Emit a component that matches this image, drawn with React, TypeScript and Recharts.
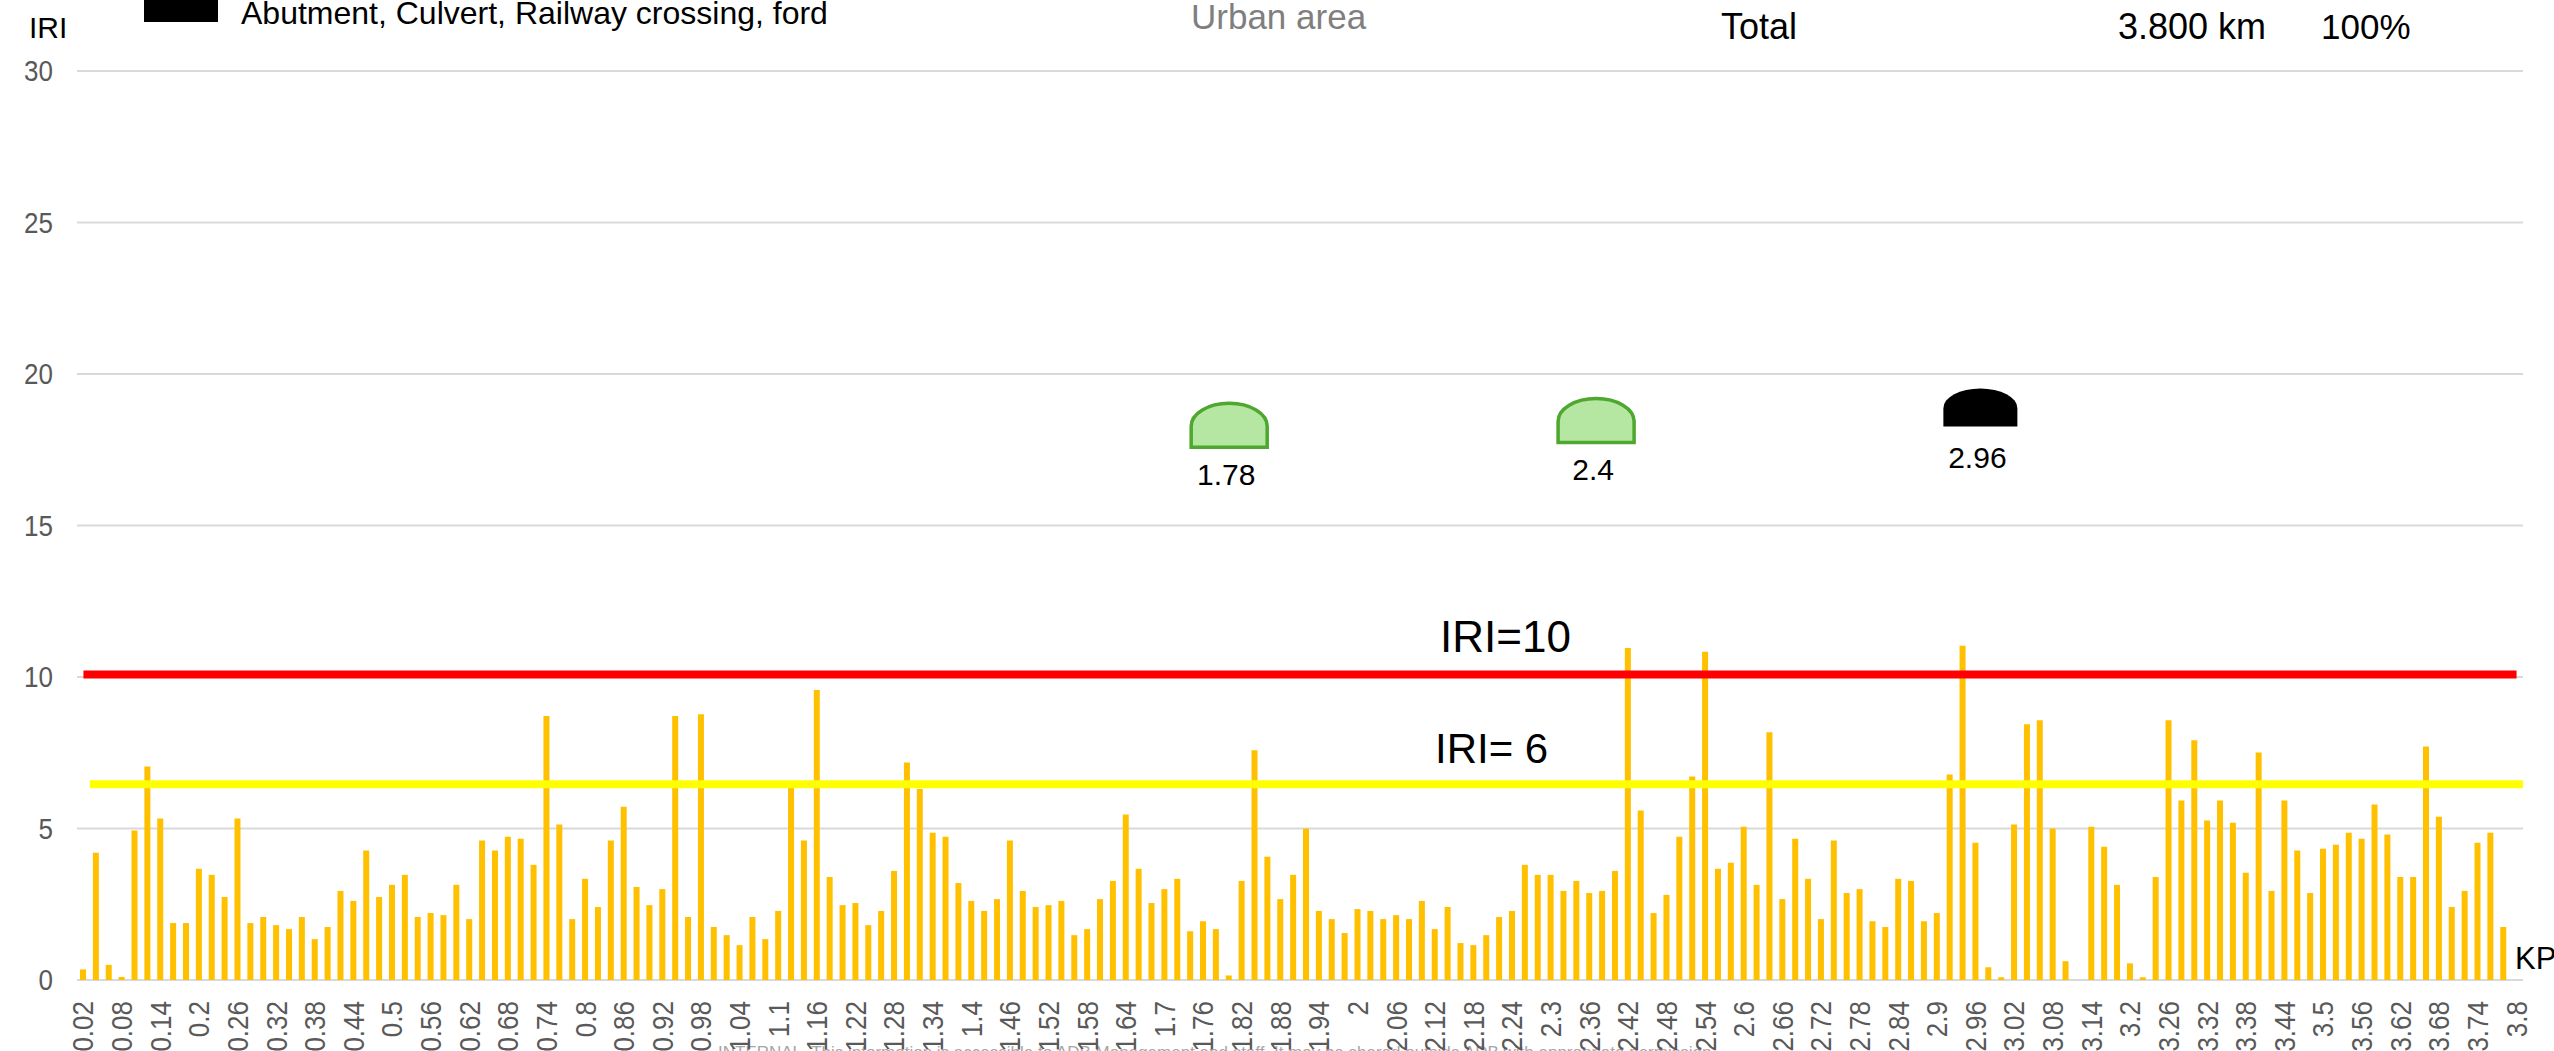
import React from 'react';
import { ComposedChart, Bar, XAxis, YAxis, CartesianGrid, ReferenceLine, ReferenceDot } from 'recharts';

// KP in km, one reading every 20 m
const KP_LABELS = Array.from({ length: 190 }, (_, i) => String(Number(((i + 1) * 0.02).toFixed(2))));

const IRI_VALUES = [
  0.35, 4.2, 0.5, 0.1, 4.93, 7.05, 5.33, 1.88, 1.88, 3.67, 3.47, 2.74, 5.33, 1.88, 2.08, 1.81, 1.68, 2.08, 1.35, 1.75,
  2.94, 2.61, 4.27, 2.74, 3.14, 3.47, 2.08, 2.21, 2.14, 3.14, 2.01, 4.6, 4.27, 4.73, 4.66, 3.8, 8.71, 5.13, 2.01, 3.34,
  2.41, 4.6, 5.72, 3.07, 2.47, 3.0, 8.71, 2.08, 8.77, 1.75, 1.48, 1.15, 2.08, 1.35, 2.28, 6.4, 4.6, 9.57, 3.4, 2.47,
  2.54, 1.81, 2.28, 3.6, 7.18, 6.3, 4.86, 4.73, 3.2, 2.61, 2.28, 2.67, 4.6, 2.94, 2.41, 2.47, 2.61, 1.48, 1.68, 2.67,
  3.27, 5.46, 3.67, 2.54, 3.0, 3.34, 1.61, 1.94, 1.68, 0.15, 3.27, 7.58, 4.07, 2.67, 3.47, 5.0, 2.28, 2.01, 1.55, 2.34,
  2.28, 2.01, 2.14, 2.01, 2.61, 1.68, 2.41, 1.22, 1.15, 1.48, 2.08, 2.28, 3.8, 3.47, 3.47, 2.94, 3.27, 2.87, 2.94, 3.6,
  10.96, 5.59, 2.21, 2.81, 4.73, 6.72, 10.83, 3.67, 3.87, 5.06, 3.14, 8.18, 2.67, 4.66, 3.34, 2.01, 4.6, 2.87, 3.0, 1.94,
  1.75, 3.34, 3.27, 1.94, 2.21, 6.78, 11.03, 4.53, 0.42, 0.09, 5.13, 8.44, 8.57, 5.0, 0.62, 0, 5.06, 4.4, 3.14, 0.55,
  0.09, 3.4, 8.57, 5.92, 7.91, 5.26, 5.92, 5.19, 3.54, 7.51, 2.94, 5.92, 4.27, 2.87, 4.33, 4.46, 4.86, 4.66, 5.79, 4.8,
  3.4, 3.4, 7.71, 5.39, 2.41, 2.94, 4.53, 4.86, 1.75, 0,
];

const Y_TICKS = [0, 5, 10, 15, 20, 25, 30];

const MARKER_KP = [1.8, 2.37, 2.967];
const MARKER_IRI = [17.58, 17.74, 18.27];
const MARKER_LABELS = ['1.78', '2.4', '2.96'];
const MARKER_KINDS = ['urban', 'urban', 'structure'];

const chartData = KP_LABELS.map((kp, i) => ({ kp, km: Number(kp), iri: IRI_VALUES[i] }));

const FONT = '"Liberation Sans", Arial, sans-serif';

const KpTick = ({ x, y, payload }: any) => (
  <text
    transform={`translate(${x + 10},${y + 13}) rotate(-90) scale(1,1.12)`}
    textAnchor="end"
    fontFamily={FONT}
    fontSize={26}
    fill="#595959"
  >
    {payload.value}
  </text>
);

const IriTick = ({ x, y, payload }: any) => (
  <text
    transform={`translate(${x},${y + 10}) scale(1,1.12)`}
    textAnchor="end"
    fontFamily={FONT}
    fontSize={26}
    fill="#595959"
  >
    {payload.value}
  </text>
);

// half-round marker sitting on its lower edge
const Marker = ({ cx, cy, kind, label }: any) => {
  const urban = kind === 'urban';
  const w = urban ? 76 : 74;
  const h = urban ? 44 : 38;
  const r = w / 2;
  const ry = h * 0.52;
  const arcStart = cy - h + ry;
  return (
    <g>
      <path
        d={`M${cx - r},${cy} L${cx - r},${arcStart} A${r},${ry} 0 0 1 ${cx + r},${arcStart} L${cx + r},${cy} Z`}
        fill={urban ? '#b5e6a2' : '#000000'}
        stroke={urban ? '#4ea72e' : 'none'}
        strokeWidth={3.5}
      />
      <text x={cx - 3} y={cy + (urban ? 38 : 42)} textAnchor="middle" fontFamily={FONT} fontSize={30} fill="#000">
        {label}
      </text>
    </g>
  );
};

export default function App() {
  return (
    <div style={{ position: 'absolute', left: 0, top: 0, width: 2554, height: 1051, overflow: 'hidden', background: '#fff' }}>
      <ComposedChart
        width={2554}
        height={1051}
        data={chartData}
        margin={{ top: 71, right: 31, bottom: 0, left: 0 }}
        style={{ fontFamily: FONT }}
      >
        <CartesianGrid vertical={false} stroke="#d9d9d9" strokeWidth={2} />
        <XAxis
          dataKey="kp"
          interval={2}
          height={71}
          axisLine={false}
          tickLine={false}
          tick={<KpTick />}
        />
        <XAxis xAxisId="km" dataKey="km" type="number" domain={[0.01, 3.81]} allowDataOverflow hide />
        <YAxis
          width={77}
          domain={[0, 30]}
          ticks={Y_TICKS}
          interval={0}
          axisLine={false}
          tickLine={false}
          tickMargin={18}
          tick={<IriTick />}
        />
        <Bar dataKey="iri" fill="#ffc000" barSize={6} isAnimationActive={false} />
        <ReferenceLine
          xAxisId="km"
          segment={[{ x: 0.02, y: 10.08 }, { x: 3.8, y: 10.08 }]}
          stroke="#ff0000"
          strokeWidth={8}
        />
        <ReferenceLine
          xAxisId="km"
          segment={[{ x: 0.03, y: 6.46 }, { x: 3.81, y: 6.46 }]}
          stroke="#ffff00"
          strokeWidth={8}
        />
        {MARKER_KP.map((kp, i) => (
          <ReferenceDot
            key={MARKER_LABELS[i]}
            xAxisId="km"
            x={kp}
            y={MARKER_IRI[i]}
            shape={(props: any) => <Marker {...props} kind={MARKER_KINDS[i]} label={MARKER_LABELS[i]} />}
          />
        ))}
        <g fontFamily={FONT}>
          <text x={29} y={38} fontSize={30} fill="#000">IRI</text>
          <rect x={144} y={0} width={74} height={22} fill="#000" />
          <text x={241} y={24} fontSize={32} fill="#000">Abutment, Culvert, Railway crossing, ford</text>
          <text x={1191} y={29} fontSize={35} fill="#7f7f7f">Urban area</text>
          <text x={1721} y={39} fontSize={36} fill="#000">Total</text>
          <text x={2118} y={39} fontSize={36} fill="#000">3.800 km</text>
          <text x={2321} y={39} fontSize={35} fill="#000">100%</text>
          <text x={1440} y={652} fontSize={44} fill="#000">IRI=10</text>
          <text x={1435} y={763} fontSize={42} fill="#000">IRI= 6</text>
          <text x={2515} y={969} fontSize={31} fill="#000">KP</text>
          <text x={718} y={1058} fontSize={17} fill="#a6a6a6">
            INTERNAL. This information is accessible to ADB Management and staff. It may be shared outside ADB with appropriate permission.
          </text>
        </g>
      </ComposedChart>
    </div>
  );
}
